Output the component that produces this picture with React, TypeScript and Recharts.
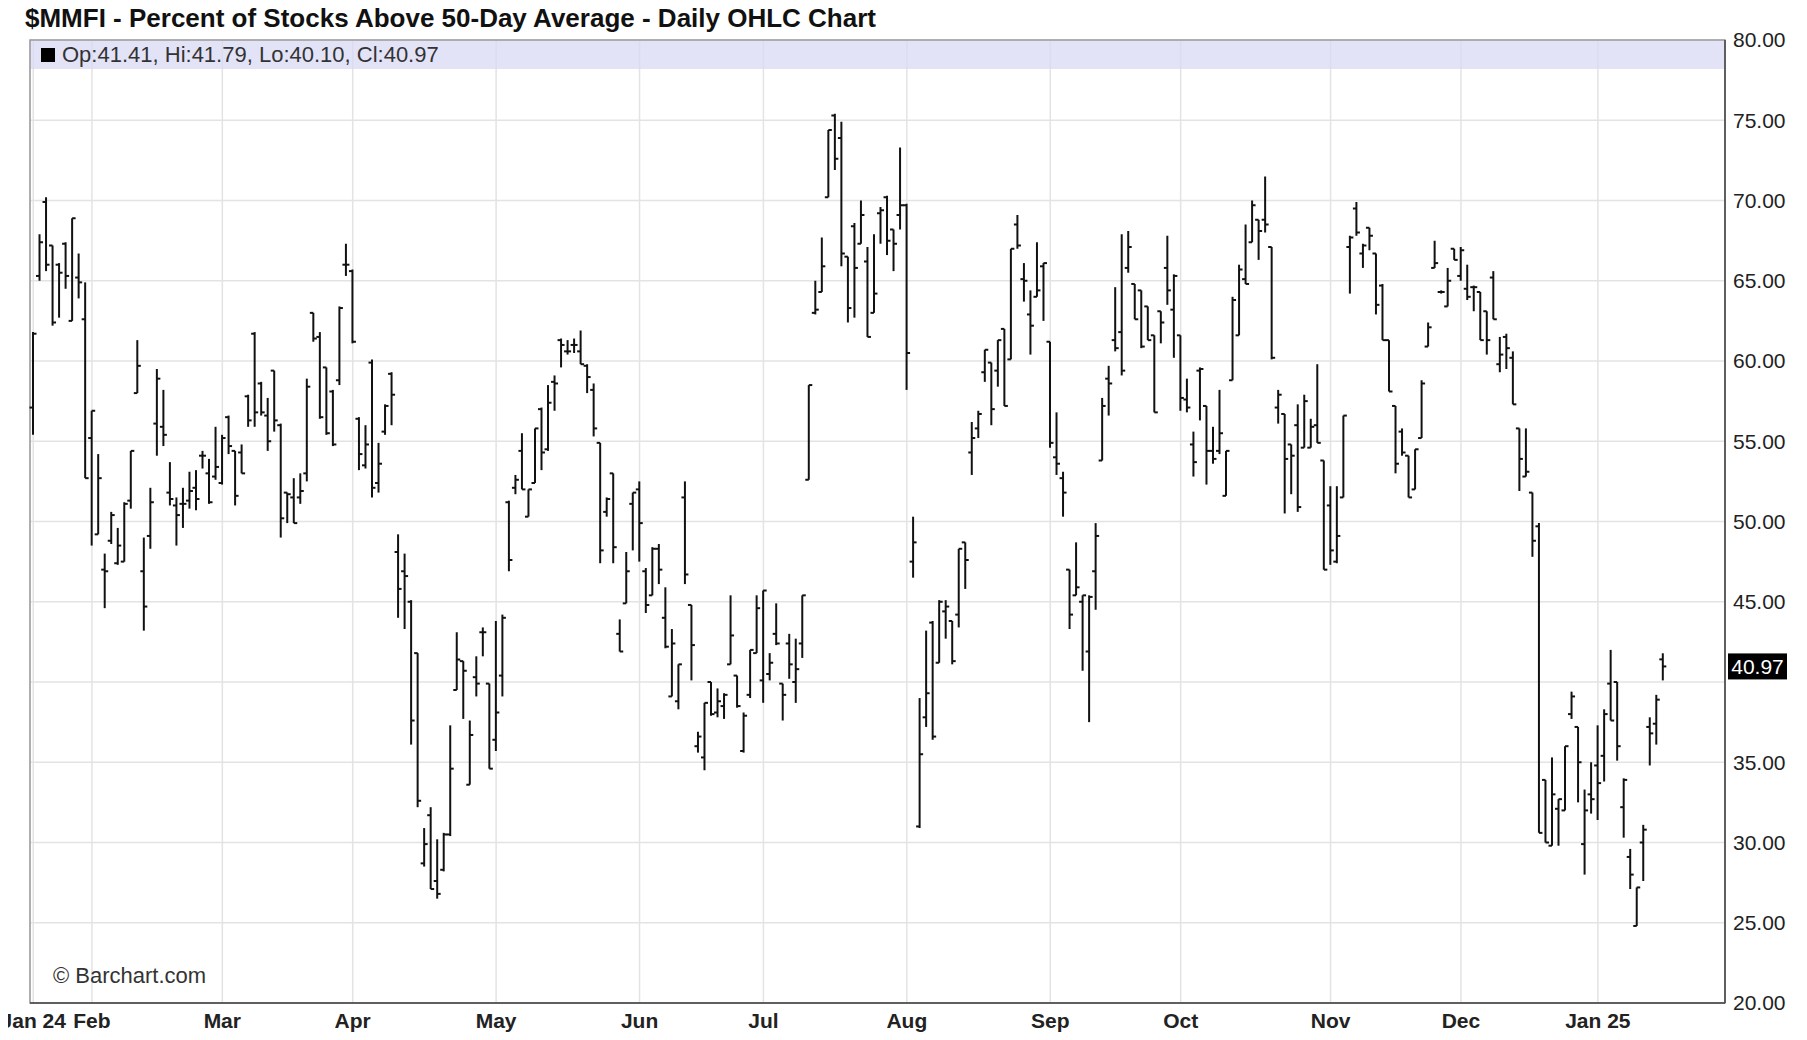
import React from "react";
import {
  ComposedChart,
  Bar,
  XAxis,
  YAxis,
  CartesianGrid,
  ReferenceArea,
  ReferenceLine,
} from "recharts";

const FONT = '"Liberation Sans", Arial, Helvetica, sans-serif';

// ---- categories (trading days) ----
const dates: string[] = [
  "2024-01-19", "2024-01-22", "2024-01-23", "2024-01-24", "2024-01-25", "2024-01-26", "2024-01-29", "2024-01-30", "2024-01-31",
  "2024-02-01", "2024-02-02", "2024-02-05", "2024-02-06", "2024-02-07", "2024-02-08", "2024-02-09", "2024-02-12", "2024-02-13", "2024-02-14", "2024-02-15", "2024-02-16", "2024-02-20", "2024-02-21", "2024-02-22", "2024-02-23", "2024-02-26", "2024-02-27", "2024-02-28", "2024-02-29",
  "2024-03-01", "2024-03-04", "2024-03-05", "2024-03-06", "2024-03-07", "2024-03-08", "2024-03-11", "2024-03-12", "2024-03-13", "2024-03-14", "2024-03-15", "2024-03-18", "2024-03-19", "2024-03-20", "2024-03-21", "2024-03-22", "2024-03-25", "2024-03-26", "2024-03-27", "2024-03-28",
  "2024-04-01", "2024-04-02", "2024-04-03", "2024-04-04", "2024-04-05", "2024-04-08", "2024-04-09", "2024-04-10", "2024-04-11", "2024-04-12", "2024-04-15", "2024-04-16", "2024-04-17", "2024-04-18", "2024-04-19", "2024-04-22", "2024-04-23", "2024-04-24", "2024-04-25", "2024-04-26", "2024-04-29", "2024-04-30",
  "2024-05-01", "2024-05-02", "2024-05-03", "2024-05-06", "2024-05-07", "2024-05-08", "2024-05-09", "2024-05-10", "2024-05-13", "2024-05-14", "2024-05-15", "2024-05-16", "2024-05-17", "2024-05-20", "2024-05-21", "2024-05-22", "2024-05-23", "2024-05-24", "2024-05-28", "2024-05-29", "2024-05-30", "2024-05-31",
  "2024-06-03", "2024-06-04", "2024-06-05", "2024-06-06", "2024-06-07", "2024-06-10", "2024-06-11", "2024-06-12", "2024-06-13", "2024-06-14", "2024-06-17", "2024-06-18", "2024-06-20", "2024-06-21", "2024-06-24", "2024-06-25", "2024-06-26", "2024-06-27", "2024-06-28",
  "2024-07-01", "2024-07-02", "2024-07-03", "2024-07-05", "2024-07-08", "2024-07-09", "2024-07-10", "2024-07-11", "2024-07-12", "2024-07-15", "2024-07-16", "2024-07-17", "2024-07-18", "2024-07-19", "2024-07-22", "2024-07-23", "2024-07-24", "2024-07-25", "2024-07-26", "2024-07-29", "2024-07-30", "2024-07-31",
  "2024-08-01", "2024-08-02", "2024-08-05", "2024-08-06", "2024-08-07", "2024-08-08", "2024-08-09", "2024-08-12", "2024-08-13", "2024-08-14", "2024-08-15", "2024-08-16", "2024-08-19", "2024-08-20", "2024-08-21", "2024-08-22", "2024-08-23", "2024-08-26", "2024-08-27", "2024-08-28", "2024-08-29", "2024-08-30",
  "2024-09-03", "2024-09-04", "2024-09-05", "2024-09-06", "2024-09-09", "2024-09-10", "2024-09-11", "2024-09-12", "2024-09-13", "2024-09-16", "2024-09-17", "2024-09-18", "2024-09-19", "2024-09-20", "2024-09-23", "2024-09-24", "2024-09-25", "2024-09-26", "2024-09-27", "2024-09-30",
  "2024-10-01", "2024-10-02", "2024-10-03", "2024-10-04", "2024-10-07", "2024-10-08", "2024-10-09", "2024-10-10", "2024-10-11", "2024-10-14", "2024-10-15", "2024-10-16", "2024-10-17", "2024-10-18", "2024-10-21", "2024-10-22", "2024-10-23", "2024-10-24", "2024-10-25", "2024-10-28", "2024-10-29", "2024-10-30", "2024-10-31",
  "2024-11-01", "2024-11-04", "2024-11-05", "2024-11-06", "2024-11-07", "2024-11-08", "2024-11-11", "2024-11-12", "2024-11-13", "2024-11-14", "2024-11-15", "2024-11-18", "2024-11-19", "2024-11-20", "2024-11-21", "2024-11-22", "2024-11-25", "2024-11-26", "2024-11-27", "2024-11-29",
  "2024-12-02", "2024-12-03", "2024-12-04", "2024-12-05", "2024-12-06", "2024-12-09", "2024-12-10", "2024-12-11", "2024-12-12", "2024-12-13", "2024-12-16", "2024-12-17", "2024-12-18", "2024-12-19", "2024-12-20", "2024-12-23", "2024-12-24", "2024-12-26", "2024-12-27", "2024-12-30", "2024-12-31",
  "2025-01-02", "2025-01-03", "2025-01-06", "2025-01-07", "2025-01-08", "2025-01-10", "2025-01-13", "2025-01-14", "2025-01-15", "2025-01-16", "2025-01-17",
];

// ---- series values ----
const open: number[] = [
  57.1, 65.3, 69.9, 67.2, 66.0, 67.3, 62.5, 65.2, 62.6,
  55.2, 49.2, 47.0, 48.8, 47.4, 47.5, 51.3, 58.0, 46.9, 49.1, 56.1, 55.9, 51.8, 51.0, 51.1, 51.3, 52.1, 54.1, 53.0, 52.8,
  52.4, 56.5, 54.4, 54.3, 57.8, 61.7, 58.6, 56.6, 59.4, 56.0, 51.8, 51.5, 51.5, 53.0, 63.0, 61.5, 59.6, 58.1, 58.8, 66.0,
  65.6, 56.4, 53.5, 59.9, 52.4, 55.6, 59.2, 48.1, 46.9, 45.0, 41.8, 28.7, 31.7, 27.6, 28.3, 30.5, 39.5, 41.3, 33.6, 40.3, 43.1, 39.9,
  36.4, 40.4, 51.2, 52.1, 54.4, 50.3, 52.4, 57.0, 54.5, 58.7, 61.3, 60.6, 61.0, 60.6, 59.7, 58.2, 54.9, 50.6, 53.0, 43.0, 44.9, 51.1,
  52.0, 46.9, 45.4, 48.3, 44.0, 39.1, 38.8, 51.5, 44.8, 36.0, 35.3, 40.0, 38.1, 38.5, 41.1, 40.4, 35.7, 39.2, 41.8,
  40.1, 40.5, 43.0, 39.9, 42.4, 40.0, 42.4, 52.6, 63.0, 64.3, 70.2, 75.3, 73.9, 66.5, 68.4, 67.3, 66.2, 63.0, 69.2, 70.2, 68.2, 69.1,
  69.7, 47.5, 31.0, 37.8, 43.7, 41.2, 44.4, 43.8, 44.2, 48.7, 54.3, 55.8, 59.3, 59.9, 59.4, 62.0, 60.1, 68.5, 65.1, 62.9, 64.0, 65.9,
  61.2, 54.0, 52.7, 47.0, 45.4, 45.0, 41.9, 46.9, 53.8, 58.9, 61.3, 61.8, 65.8, 64.8, 64.4, 63.4, 61.6, 63.1, 65.8, 63.2,
  61.6, 57.6, 54.8, 59.4, 57.2, 54.4, 54.4, 51.6, 58.8, 61.6, 65.1, 67.4, 68.8, 68.8, 67.1, 57.1, 56.7, 54.8, 56.0, 54.6, 54.6, 56.0, 53.8,
  51.0, 47.5, 51.5, 67.1, 69.5, 66.7, 68.3, 66.7, 64.7, 61.3, 57.2, 55.6, 54.1, 52.0, 55.2, 60.9, 65.8, 64.3, 63.4, 67.0,
  65.3, 64.5, 64.6, 64.3, 63.1, 65.2, 59.8, 61.5, 60.2, 55.8, 52.8, 51.8, 49.7, 33.9, 29.8, 32.1, 32.0, 38.0, 37.2, 29.9, 33.0,
  34.8, 35.4, 39.9, 40.0, 32.2, 29.1, 24.8, 30.0, 37.2, 37.4, 41.41,
];
const high: number[] = [
  61.8, 67.9, 70.2, 67.2, 66.1, 67.4, 68.9, 66.7, 64.9,
  56.9, 54.2, 48.0, 50.6, 49.6, 51.2, 54.4, 61.3, 49.0, 52.1, 59.5, 58.2, 53.7, 51.5, 52.1, 53.1, 53.2, 54.4, 53.9, 55.9,
  55.4, 56.6, 54.4, 54.8, 57.9, 61.8, 58.7, 57.7, 59.4, 56.1, 51.8, 52.7, 53.0, 58.9, 63.0, 61.8, 59.6, 58.2, 63.4, 67.3,
  65.7, 56.5, 56.0, 60.1, 54.9, 57.3, 59.3, 49.2, 48.0, 45.1, 41.8, 30.9, 32.2, 30.2, 30.6, 37.3, 43.1, 41.3, 37.6, 41.6, 43.4, 39.9,
  43.8, 44.2, 51.3, 52.9, 55.5, 52.0, 55.8, 57.1, 58.5, 59.1, 61.4, 61.3, 61.4, 61.9, 59.8, 58.6, 54.9, 51.5, 53.0, 43.9, 48.1, 51.8,
  52.5, 47.1, 48.4, 48.6, 45.9, 43.3, 41.1, 52.5, 44.8, 36.9, 38.7, 40.0, 39.6, 39.3, 45.4, 40.4, 38.1, 42.0, 45.4,
  45.7, 41.8, 44.9, 39.9, 43.0, 42.7, 45.4, 58.5, 65.0, 67.7, 74.4, 75.4, 74.9, 66.5, 68.6, 70.0, 67.1, 67.9, 69.6, 70.3, 68.2, 73.3,
  69.8, 50.3, 39.0, 43.2, 43.8, 45.1, 45.1, 43.8, 48.3, 48.7, 56.2, 56.9, 60.7, 59.9, 61.3, 62.0, 67.0, 69.1, 66.1, 64.4, 67.4, 66.1,
  61.2, 56.8, 53.1, 47.0, 48.7, 45.4, 45.4, 49.9, 57.7, 59.7, 64.6, 67.9, 68.1, 64.8, 64.4, 63.4, 61.6, 63.1, 67.8, 65.4,
  61.6, 58.9, 55.6, 59.6, 57.2, 55.9, 58.2, 54.4, 64.0, 66.0, 68.5, 70.0, 68.8, 71.5, 67.1, 58.2, 56.7, 54.8, 57.3, 57.9, 56.4, 59.8, 53.8,
  52.2, 52.2, 56.6, 67.8, 69.9, 67.3, 68.3, 66.7, 64.8, 61.3, 57.2, 55.8, 54.1, 54.5, 58.8, 62.4, 67.5, 64.4, 65.8, 67.0,
  67.1, 66.0, 64.7, 64.3, 63.1, 65.6, 61.5, 61.7, 60.6, 55.8, 55.8, 51.8, 49.9, 33.9, 35.3, 32.7, 36.0, 39.4, 37.2, 33.3, 35.0,
  37.3, 38.3, 42.0, 40.0, 34.0, 29.6, 27.2, 31.1, 37.8, 39.2, 41.79,
];
const low: number[] = [
  55.4, 65.0, 65.6, 62.2, 62.7, 64.5, 62.5, 63.9, 52.7,
  48.5, 49.2, 44.6, 48.6, 47.3, 47.5, 50.8, 58.0, 43.2, 48.3, 54.1, 54.7, 51.0, 48.5, 49.6, 50.8, 50.7, 53.3, 51.1, 52.6,
  52.3, 54.2, 51.0, 53.0, 55.9, 55.9, 56.6, 54.4, 55.6, 49.0, 49.9, 49.9, 51.1, 52.5, 61.2, 56.4, 55.4, 54.7, 58.5, 65.3,
  61.1, 53.2, 53.3, 51.5, 51.8, 55.4, 56.0, 44.0, 43.3, 36.1, 32.2, 28.5, 27.1, 26.5, 28.2, 30.4, 39.5, 37.7, 33.6, 39.1, 41.6, 34.6,
  35.7, 39.1, 46.9, 51.7, 52.0, 50.3, 52.4, 53.2, 54.4, 56.9, 59.6, 60.4, 60.5, 59.8, 58.0, 55.3, 47.4, 50.3, 47.4, 41.9, 44.9, 48.2,
  47.5, 44.3, 45.4, 46.1, 42.1, 39.1, 38.3, 46.1, 40.1, 35.6, 34.5, 37.9, 37.8, 37.7, 41.1, 38.4, 35.6, 39.0, 41.8,
  38.7, 40.1, 42.3, 37.6, 40.2, 38.7, 41.5, 52.6, 62.9, 64.3, 70.2, 71.9, 65.9, 62.4, 62.7, 67.3, 61.5, 63.0, 67.3, 66.6, 65.6, 68.2,
  58.2, 46.5, 30.9, 37.2, 36.4, 41.2, 42.7, 41.1, 43.4, 45.8, 52.9, 55.2, 58.7, 56.0, 58.4, 57.2, 60.1, 67.0, 63.7, 60.4, 64.0, 62.5,
  54.6, 52.9, 50.3, 43.3, 45.4, 40.7, 37.5, 44.5, 53.8, 56.6, 60.6, 59.1, 65.5, 62.6, 60.8, 61.3, 56.8, 61.1, 63.5, 60.2,
  56.9, 56.8, 52.8, 56.3, 52.3, 53.6, 54.2, 51.6, 58.8, 61.6, 64.8, 67.4, 66.3, 68.0, 60.1, 56.1, 50.5, 51.7, 50.6, 54.6, 54.6, 54.9, 47.0,
  47.3, 47.4, 51.5, 64.2, 67.8, 65.8, 66.9, 62.9, 61.3, 58.1, 53.0, 54.1, 51.5, 52.0, 55.2, 60.9, 65.8, 64.2, 63.4, 66.3,
  65.0, 63.8, 63.1, 61.3, 60.4, 62.6, 59.3, 59.5, 57.3, 51.9, 52.8, 47.8, 30.6, 30.0, 29.8, 29.8, 32.0, 37.7, 32.5, 28.0, 31.8,
  31.4, 33.8, 37.6, 35.1, 30.3, 27.1, 24.8, 27.6, 34.8, 36.1, 40.10,
];
const close: number[] = [
  61.7, 67.4, 66.0, 62.4, 65.5, 65.3, 68.9, 64.9, 52.7,
  56.9, 52.7, 46.9, 50.4, 48.5, 51.1, 54.4, 59.7, 44.7, 51.2, 58.9, 55.4, 51.4, 50.4, 51.1, 51.9, 51.4, 54.1, 51.2, 53.4,
  55.2, 54.7, 51.6, 53.0, 56.3, 56.8, 56.8, 55.0, 56.3, 50.2, 51.7, 49.9, 51.9, 58.4, 61.4, 56.5, 55.5, 54.8, 63.3, 66.0,
  61.2, 54.2, 54.8, 52.1, 53.6, 57.2, 57.9, 45.8, 46.6, 37.6, 32.6, 29.9, 27.1, 26.8, 30.5, 34.6, 41.4, 40.7, 36.7, 39.9, 43.1, 34.6,
  38.1, 44.0, 47.6, 52.6, 52.0, 52.0, 55.8, 54.3, 57.4, 58.6, 61.0, 60.6, 61.0, 59.8, 59.0, 55.8, 48.2, 51.4, 48.4, 41.9, 46.9, 51.8,
  49.9, 44.8, 48.3, 47.0, 42.2, 42.4, 41.1, 46.7, 42.3, 36.6, 38.7, 38.0, 38.8, 39.2, 42.9, 38.5, 37.9, 42.0, 44.6,
  45.7, 41.2, 42.4, 39.2, 41.1, 40.8, 45.4, 58.5, 63.2, 65.9, 74.4, 72.6, 66.7, 63.3, 65.8, 69.1, 61.5, 64.2, 69.4, 67.5, 67.3, 69.7,
  60.5, 48.7, 35.5, 39.3, 36.6, 45.0, 44.7, 41.3, 48.3, 47.6, 55.2, 56.7, 60.7, 57.0, 61.3, 57.2, 67.0, 67.2, 65.0, 62.2, 64.4, 66.1,
  54.9, 53.6, 51.8, 44.2, 45.9, 45.4, 45.3, 49.1, 57.2, 58.6, 60.8, 59.4, 67.1, 62.6, 60.9, 61.3, 56.8, 62.4, 64.4, 65.3,
  57.7, 57.1, 53.7, 59.5, 54.4, 53.9, 55.5, 54.4, 63.8, 65.7, 64.8, 69.7, 68.1, 68.5, 60.2, 57.9, 53.9, 54.1, 50.9, 57.5, 55.9, 54.9, 47.0,
  48.2, 49.1, 56.6, 67.7, 68.0, 67.2, 67.8, 63.5, 61.3, 58.1, 53.6, 54.3, 51.5, 54.5, 58.6, 62.1, 66.1, 64.3, 65.0, 66.3,
  66.9, 64.0, 64.6, 61.3, 61.3, 62.6, 60.4, 60.8, 57.3, 53.9, 53.1, 48.8, 30.6, 30.0, 33.0, 32.7, 36.0, 39.1, 35.0, 32.0, 32.7,
  33.7, 38.0, 37.6, 36.0, 33.9, 28.0, 27.2, 30.8, 36.8, 38.9, 40.97,
];

// empty slots after the last session (space on the right of the plot)
const padSlots = 9;

// ---- tick labels ----
const monthTicks = [
  "2024-01-19", "2024-02-01", "2024-03-01", "2024-04-01", "2024-05-01", "2024-06-03", "2024-07-01",
  "2024-08-01", "2024-09-03", "2024-10-01", "2024-11-01", "2024-12-02", "2025-01-02",
];
const monthLabels = ["Jan 24", "Feb", "Mar", "Apr", "May", "Jun", "Jul", "Aug", "Sep", "Oct", "Nov", "Dec", "Jan 25"];
const yTicks = [20, 25, 30, 35, 40, 45, 50, 55, 60, 65, 70, 75, 80];
const hiddenYTick = 40;

const title = "$MMFI - Percent of Stocks Above 50-Day Average - Daily OHLC Chart";
const lastPrice = 40.97;
const legendText = "Op:41.41, Hi:41.79, Lo:40.10, Cl:40.97";
const bandFrom = 78.19;

const data: any[] = [
  ...dates.map((d, i) => ({
    d,
    range: [low[i], high[i]],
    o: open[i],
    h: high[i],
    l: low[i],
    c: close[i],
  })),
  ...Array.from({ length: padSlots }, (_, k) => ({ d: `pad-${k}` })),
];

const labelFor = (v: string) => {
  const i = monthTicks.indexOf(v);
  return i >= 0 ? monthLabels[i] : "";
};

const OhlcShape = (props: any) => {
  const { x, y, width, height, payload } = props;
  if (!payload || payload.o == null || x == null || y == null) return null;
  const top = Math.min(y, y + height);
  const bottom = Math.max(y, y + height);
  const span = payload.h - payload.l || 1;
  const toY = (v: number) => top + ((payload.h - v) / span) * (bottom - top);
  const cx = x + width / 2;
  const tick = 3.5;
  const oy = toY(payload.o);
  const cy = toY(payload.c);
  return (
    <g stroke="#111" strokeWidth={2} fill="none">
      <line x1={cx} x2={cx} y1={top} y2={bottom} />
      <line x1={cx - tick} x2={cx} y1={oy} y2={oy} />
      <line x1={cx} x2={cx + tick} y1={cy} y2={cy} />
    </g>
  );
};

const PriceTag = (props: any) => {
  const vb = props.viewBox;
  if (!vb) return null;
  const x = vb.x + vb.width + 3;
  const y = vb.y;
  return (
    <g>
      <rect x={x} y={y - 13} width={59} height={26} fill="#000" />
      <text x={x + 29.5} y={y} dy="0.36em" textAnchor="middle" fill="#fff" fontSize={21} fontFamily={FONT}>
        {lastPrice.toFixed(2)}
      </text>
    </g>
  );
};

export default function App() {
  return (
    <div style={{ position: "relative", width: 1791, height: 1032, fontFamily: FONT, background: "#fff" }}>
      <ComposedChart
        width={1791}
        height={1032}
        data={data}
        margin={{ top: 32, right: 0, bottom: 0, left: 22 }}
        barCategoryGap={0}
      >
        <CartesianGrid stroke="#e3e3e3" strokeWidth={1.5} yAxisId="r" />
        <XAxis
          dataKey="d"
          type="category"
          ticks={monthTicks}
          interval={0}
          tickFormatter={labelFor}
          tickLine={false}
          axisLine={{ stroke: "#444", strokeWidth: 1.5 }}
          height={37}
          tickMargin={4}
          tick={{ fill: "#222", fontSize: 21, fontWeight: "bold", fontFamily: FONT }}
        />
        <YAxis
          yAxisId="r"
          orientation="right"
          type="number"
          domain={[20, 80]}
          ticks={yTicks}
          interval={0}
          allowDataOverflow
          tickFormatter={(v: number) => (v === hiddenYTick ? "" : v.toFixed(2))}
          tickLine={false}
          axisLine={{ stroke: "#444", strokeWidth: 1.5 }}
          width={74}
          tick={{ fill: "#222", fontSize: 21, fontFamily: FONT, textAnchor: "start" }}
        />
        <ReferenceArea
          yAxisId="r"
          y1={bandFrom}
          y2={80}
          fill="#d9d9f6"
          fillOpacity={0.75}
          stroke="none"
          ifOverflow="visible"
        />
        <ReferenceArea yAxisId="r" y1={20} y2={80} fill="none" fillOpacity={0} stroke="#9a9a9a" strokeWidth={1.5} ifOverflow="visible" />
        <Bar yAxisId="r" dataKey="range" shape={OhlcShape} isAnimationActive={false} barSize={6} />
        <ReferenceLine yAxisId="r" y={lastPrice} stroke="none" strokeOpacity={0} label={PriceTag} ifOverflow="visible" />
      </ComposedChart>

      <div
        style={{
          position: "absolute",
          left: 17,
          top: -3,
          fontSize: 26,
          lineHeight: "26px",
          fontWeight: "bold",
          color: "#111",
          whiteSpace: "nowrap",
        }}
      >
        {title}
      </div>
      <div
        style={{
          position: "absolute",
          left: 33,
          top: 36,
          fontSize: 22,
          lineHeight: "22px",
          color: "#333",
          whiteSpace: "nowrap",
          display: "flex",
          alignItems: "center",
        }}
      >
        <span style={{ display: "inline-block", width: 14, height: 14, background: "#000", marginRight: 7 }} />
        <span>{legendText}</span>
      </div>
      <div
        style={{
          position: "absolute",
          left: 45,
          top: 957,
          fontSize: 22,
          lineHeight: "22px",
          color: "#333",
          whiteSpace: "nowrap",
        }}
      >
        © Barchart.com
      </div>
    </div>
  );
}
